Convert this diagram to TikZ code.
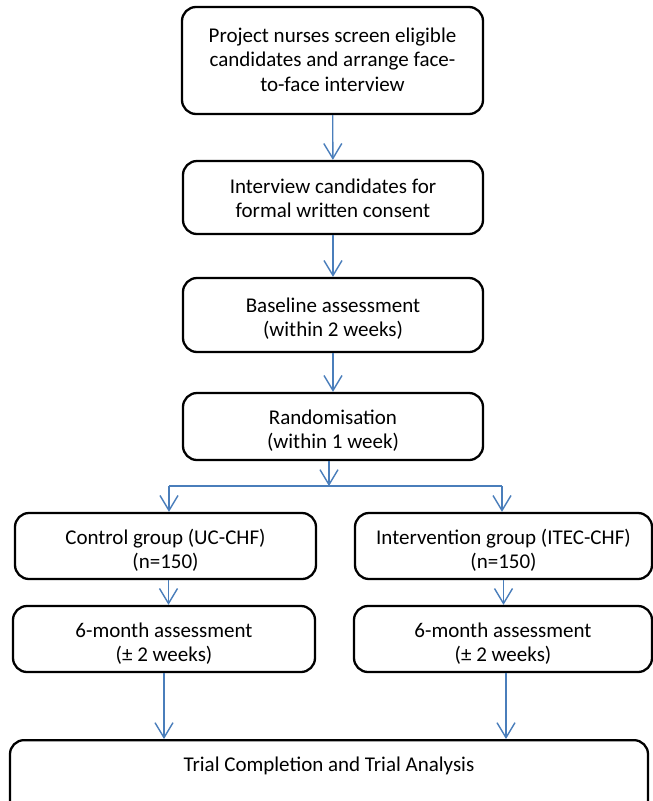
\documentclass[tikz,border=0pt]{standalone}
\usepackage{fontspec}
\setmainfont{Carlito}
\usetikzlibrary{arrows.meta}
\definecolor{arrblue}{HTML}{4A7EBB}
\newcommand\topstrut[1]{\rule{0pt}{#1}}
\newcommand\botstrut{\rule[-6pt]{0pt}{6pt}}
\begin{document}
\begin{tikzpicture}[x=1pt,y=-1pt,
  box/.style={draw=black, line width=2.3pt, rounded corners=14pt, align=center,
    inner sep=0pt, font=\fontsize{21}{24.5}\selectfont},
  link/.style={draw=arrblue, line width=1.4pt},
  arr/.style={link, -{Straight Barb[length=15pt,width=18pt,line width=1.4pt]}}]
\useasboundingbox (0,0) rectangle (653,801);
\clip (0,0) rectangle (653,801);
\fill[white] (0,0) rectangle (653,801);

\node (b1) [box, minimum width=301pt, minimum height=107pt] at (332.5,60.5)
  {\topstrut{18pt}Project nurses screen eligible\\candidates and arrange face-\\to-face interview\botstrut};
\node (b2) [box, minimum width=300pt, minimum height=73pt] at (333,197.5)
  {\topstrut{21.5pt}Interview candidates for\\formal written consent\botstrut};
\node (b3) [box, minimum width=300pt, minimum height=74pt] at (333,315)
  {\topstrut{24.5pt}Baseline assessment\\(within 2 weeks)\botstrut};
\node (b4) [box, minimum width=300pt, minimum height=67pt] at (333,426.5)
  {\topstrut{25.5pt}Randomisation\\(within 1 week)\botstrut};
\node (c1) [box, minimum width=301pt, minimum height=66pt] at (165.5,546)
  {\topstrut{26.5pt}Control group (UC-CHF)\\(n=150)\botstrut};
\node (i1) [box, minimum width=297pt, minimum height=66pt] at (503.5,546)
  {\topstrut{26.5pt}Intervention group (ITEC-CHF)\\(n=150)\botstrut};
\node (c2) [box, minimum width=302pt, minimum height=66pt] at (164,639)
  {\topstrut{26.5pt}6-month assessment\\(± 2 weeks)\botstrut};
\node (i2) [box, minimum width=298pt, minimum height=66pt] at (503,639)
  {\topstrut{26.5pt}6-month assessment\\(± 2 weeks)\botstrut};
\node (fin) [box, anchor=north, minimum width=638pt, minimum height=100pt,
  text height=14pt, text depth=52pt] at (329,739)
  {Trial Completion and Trial Analysis};

\coordinate (br) at (329,486);
\coordinate (bl) at (169,486);
\coordinate (brr) at (502,486);

\draw[arr] (b1) -- (b2);
\draw[arr] (b2) -- (b3);
\draw[arr] (b3) -- (b4);
\draw[arr] (b4.south -| br) -- (br);
\draw[link] (bl) -- (brr);
\draw[arr] (bl) -- (bl |- c1.north);
\draw[arr] (brr) -- (brr |- i1.north);
\draw[arr] ([xshift=3pt]c1.south) -- ([xshift=3pt]c1.south |- c2.north);
\draw[arr] (i1.south) -- (i1.south |- i2.north);
\draw[arr] (c2.south) -- (c2.south |- fin.north);
\draw[arr] ([xshift=3pt]i2.south) -- ([xshift=3pt]i2.south |- fin.north);
\end{tikzpicture}
\end{document}
